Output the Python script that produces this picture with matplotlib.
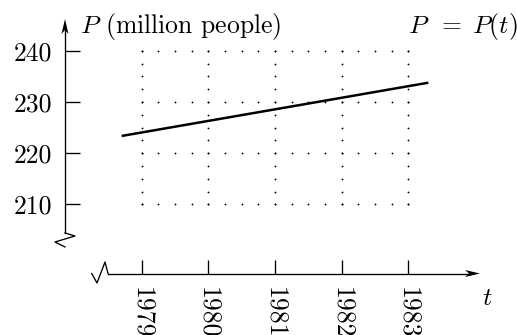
import numpy as np
import matplotlib
matplotlib.use("Agg")
import matplotlib.pyplot as plt
from matplotlib.transforms import Affine2D
from matplotlib.patches import Polygon

# data
years = [1979, 1980, 1981, 1982, 1983]
pop_ticks = [210, 220, 230, 240]
line_t = [1978.7, 1983.3]
line_p = [223.35, 233.75]

W, H = 517, 335
plt.rcParams["font.family"] = "serif"
plt.rcParams["font.serif"] = ["cmr10", "DejaVu Serif"]
plt.rcParams["mathtext.fontset"] = "cm"
plt.rcParams["axes.unicode_minus"] = False

fig = plt.figure(figsize=(W / 100, H / 100), dpi=100)
ax = fig.add_axes([0, 0, 1, 1])
ax.set_facecolor("none")

# pixel -> data mapping (1979 at x=141.7, 66.67 px per year; 240 at y=50.7, 5.12 px per unit)
def t_of(px):
    return 1979 + (px - 141.7) / 66.67

def p_of(py):
    return 240 - (py - 50.7) / 5.12

ax.set_xlim(t_of(0), t_of(W))
ax.set_ylim(p_of(H), p_of(0))

# pixel coordinates, y downward
pix = Affine2D().scale(1 / W, -1 / H).translate(0, 1) + fig.transFigure

# spines as the two axes
for s in ["top", "right"]:
    ax.spines[s].set_visible(False)
ax.spines["left"].set_position(("data", t_of(65)))
ax.spines["left"].set_bounds(p_of(233), p_of(30))
ax.spines["bottom"].set_position(("data", p_of(273.5)))
ax.spines["bottom"].set_bounds(t_of(108), t_of(470))
for s in ["left", "bottom"]:
    ax.spines[s].set_linewidth(0.95)

fs = 18.5
ax.set_yticks(pop_ticks)
ax.set_yticklabels([str(v) for v in pop_ticks])
ax.set_xticks(years)
ax.set_xticklabels([str(v) for v in years], rotation=-90, va="top", ha="center")
ax.tick_params(axis="y", direction="in", length=11, width=0.95, pad=9.5, labelsize=fs)
ax.tick_params(axis="x", direction="in", length=10, width=0.95, pad=10, labelsize=fs)

# dotted grid
for p in pop_ticks:
    xs = np.arange(years[0], years[-1] + 0.01, 0.25)
    ax.plot(xs, np.full_like(xs, p), ls="none", marker="o", ms=1.3, mew=0, color="k")
for t in years:
    ys = np.arange(pop_ticks[0], pop_ticks[-1] + 0.01, 2.5)
    ax.plot(np.full_like(ys, t), ys, ls="none", marker="o", ms=1.3, mew=0, color="k")

# the population line
ax.plot(line_t, line_p, color="k", lw=1.8, solid_capstyle="butt")

# axis breaks
ax.plot([65, 75, 55, 65], [233, 236, 242, 247], transform=pix, color="k", lw=0.95, clip_on=False)
ax.plot([91.7, 97, 105, 108], [273.5, 283, 262, 273.5], transform=pix, color="k", lw=0.95, clip_on=False)

# arrowheads
ax.add_patch(Polygon([[480, 273.5], [465, 270], [469, 273.5], [465, 277]], closed=True,
                     transform=pix, color="k", lw=0))
ax.add_patch(Polygon([[65, 19], [61.5, 34], [65, 30], [68.5, 34]], closed=True,
                     transform=pix, color="k", lw=0))

# labels
ax.text(80, 33, r"$P$ (million people)", transform=pix, fontsize=fs, va="baseline", ha="left")
ax.text(408, 33, r"$P\;\;=\;P(t)$", transform=pix, fontsize=fs, va="baseline", ha="left")
ax.text(482, 305, r"$t$", transform=pix, fontsize=fs, va="baseline", ha="left")

fig.savefig("out.png", dpi=100)
